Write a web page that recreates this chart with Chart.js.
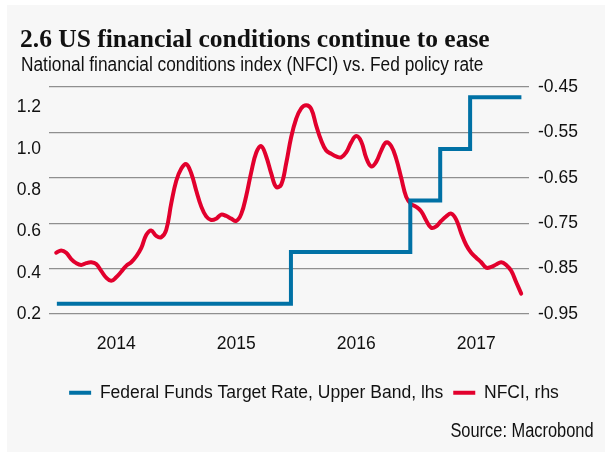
<!DOCTYPE html>
<html>
<head>
<meta charset="utf-8">
<script src="https://cdn.jsdelivr.net/npm/chart.js@4/dist/chart.umd.min.js"></script>
<style>
  html, body { margin: 0; padding: 0; background: #fff; }
  #wrap { position: relative; width: 605px; height: 452px; overflow: hidden; }
  #panel { position: absolute; left: 7px; top: 5px; width: 598px; height: 447px; background: #f7f7f7; }
  #chart { position: absolute; left: 0; top: 0; }
  .txt { position: absolute; white-space: nowrap; color: #111; }
  #title { left: 20px; top: 24px; font: bold 25.5px "Liberation Serif", serif; }
  #subtitle { left: 21px; top: 53px; font: 20px "Liberation Sans", sans-serif; transform: scaleX(0.865); transform-origin: left top; }
  #source { right: 11px; top: 419px; font: 20px "Liberation Sans", sans-serif; transform: scaleX(0.82); transform-origin: right top; }
</style>
</head>
<body>
<div id="wrap">
  <div id="panel"></div>
  <canvas id="chart" width="605" height="452"></canvas>
  <div class="txt" id="title">2.6 US financial conditions continue to ease</div>
  <div class="txt" id="subtitle">National financial conditions index (NFCI) vs. Fed policy rate</div>
  <div class="txt" id="source">Source: Macrobond</div>
</div>
<script>
// Fed funds target rate, upper band: change dates and new level (%)
const rateDates = ['2014-01-03', '2015-12-16', '2016-12-14', '2017-03-15', '2017-06-14', '2017-11-17'];
const rateValues = [0.25, 0.5, 0.75, 1.0, 1.25, 1.25];

// NFCI, twice a month from Jan 2014
const nfciStartYear = 2014;
const nfciPerYear = 24;
const nfciValues = [
  -0.815, -0.810, -0.815, -0.829, -0.838, -0.842, -0.838, -0.836, -0.840, -0.855,
  -0.870, -0.877, -0.869, -0.857, -0.844, -0.836, -0.823, -0.805, -0.776, -0.766,
  -0.778, -0.781, -0.765, -0.707, -0.657, -0.630, -0.620, -0.640, -0.678, -0.713,
  -0.735, -0.743, -0.740, -0.731, -0.734, -0.740, -0.745, -0.730, -0.690, -0.638,
  -0.595, -0.580, -0.603, -0.640, -0.670, -0.665, -0.618, -0.560, -0.520, -0.497,
  -0.490, -0.498, -0.535, -0.568, -0.590, -0.597, -0.603, -0.605, -0.594, -0.572,
  -0.558, -0.570, -0.606, -0.625, -0.615, -0.590, -0.572, -0.580, -0.608, -0.650,
  -0.692, -0.708, -0.714, -0.724, -0.744, -0.760, -0.757, -0.745, -0.735, -0.729,
  -0.742, -0.772, -0.798, -0.815, -0.826, -0.836, -0.848, -0.846, -0.841, -0.836,
  -0.842, -0.855, -0.880, -0.905
];

// axis ticks
const yearTicks = [2014, 2015, 2016, 2017];
const leftTicks = [0.2, 0.4, 0.6, 0.8, 1.0, 1.2];
const rightTicks = [-0.95, -0.9, -0.85, -0.8, -0.75, -0.7, -0.65, -0.6, -0.55, -0.5, -0.45];
const rightLabels = [-0.95, -0.85, -0.75, -0.65, -0.55, -0.45];

const BLUE = '#0071a5';
const RED = '#e2002d';
const FONT = '"Liberation Sans", sans-serif';
const FSIZE = 17.5;

function yearFrac(s) {
  const d = new Date(s + 'T00:00:00Z');
  const y = d.getUTCFullYear();
  const a = Date.UTC(y, 0, 1), b = Date.UTC(y + 1, 0, 1);
  return y + (d - a) / (b - a);
}

const rateData = rateDates.map((d, i) => ({ x: yearFrac(d), y: rateValues[i] }));
const nfciData = nfciValues.map((v, i) => ({ x: nfciStartYear + i / nfciPerYear, y: v }));

const ctx = document.getElementById('chart').getContext('2d');
new Chart(ctx, {
  type: 'line',
  data: {
    datasets: [
      {
        label: 'Federal Funds Target Rate, Upper Band, lhs',
        data: rateData,
        yAxisID: 'y',
        stepped: true,
        borderColor: BLUE,
        backgroundColor: BLUE,
        borderWidth: 4,
        pointRadius: 0,
        fill: false
      },
      {
        label: 'NFCI, rhs',
        data: nfciData,
        yAxisID: 'y1',
        tension: 0.4,
        borderColor: RED,
        backgroundColor: RED,
        borderWidth: 4,
        borderCapStyle: 'round',
        pointRadius: 0,
        fill: false
      }
    ]
  },
  options: {
    responsive: false,
    animation: false,
    // negative right padding keeps the legend centred under the plot
    layout: { padding: { top: 87, left: 0, right: -23, bottom: 40.5 } },
    plugins: {
      tooltip: { enabled: false },
      legend: {
        position: 'bottom',
        labels: {
          boxWidth: 22,
          boxHeight: 4,
          padding: 10,
          color: '#111',
          font: { family: FONT, size: FSIZE },
          generateLabels: chart =>
            Chart.defaults.plugins.legend.labels.generateLabels(chart).map(l => ({ ...l, lineWidth: 0 }))
        }
      }
    },
    scales: {
      x: {
        type: 'linear',
        min: 2013.94,
        max: 2017.94,
        afterBuildTicks: s => { s.ticks = yearTicks.map(y => ({ value: y + 0.5 })); },
        afterFit: s => { s.height = 60; },
        grid: { display: false, drawTicks: false },
        border: { display: false },
        ticks: {
          padding: 20,
          maxRotation: 0,
          color: '#111',
          font: { family: FONT, size: FSIZE },
          callback: v => String(Math.floor(v))
        }
      },
      y: {
        position: 'left',
        min: 0.2,
        max: 1.3,
        afterBuildTicks: s => { s.ticks = leftTicks.map(v => ({ value: v })); },
        afterFit: s => { s.width = 49; },
        grid: { display: false, drawTicks: false },
        border: { display: false },
        ticks: {
          padding: 8,
          color: '#111',
          font: { family: FONT, size: FSIZE },
          callback: v => v.toFixed(1)
        }
      },
      y1: {
        position: 'right',
        min: -0.95,
        max: -0.45,
        afterBuildTicks: s => { s.ticks = rightTicks.map(v => ({ value: v })); },
        afterFit: s => { s.width = 99; },
        grid: { color: '#8f8f8f', lineWidth: 1.2, drawTicks: false },
        border: { display: false },
        ticks: {
          padding: 9,
          color: '#111',
          font: { family: FONT, size: FSIZE },
          callback: v => rightLabels.some(r => Math.abs(r - v) < 1e-6) ? v.toFixed(2) : ''
        }
      }
    }
  }
});
</script>
</body>
</html>
